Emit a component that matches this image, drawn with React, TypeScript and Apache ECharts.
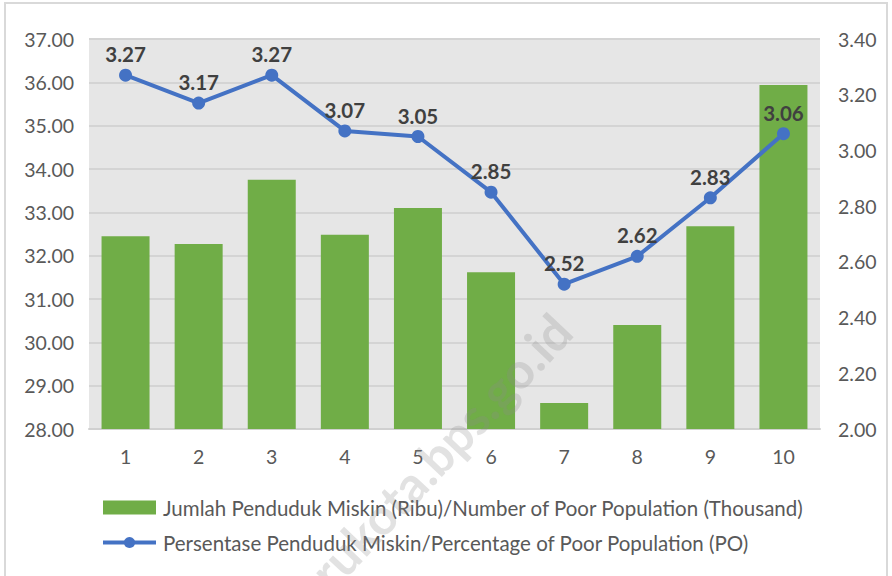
import React, { useEffect, useRef } from "react";
import * as echarts from "echarts";

const categories = ["1", "2", "3", "4", "5", "6", "7", "8", "9", "10"];
const poorPopulation = [32.45, 32.27, 33.75, 32.48, 33.1, 31.62, 28.6, 30.4, 32.68, 35.94];
const poorPercentage = [3.27, 3.17, 3.27, 3.07, 3.05, 2.85, 2.52, 2.62, 2.83, 3.06];
const barName = "Jumlah Penduduk Miskin (Ribu)/Number of Poor Population (Thousand)";
const lineName = "Persentase Penduduk Miskin/Percentage of Poor Population (PO)";
const watermark = "rukota.bps.go.id";

const FONT = "Lato, 'Open Sans', sans-serif";

export default function App() {
  const ref = useRef<HTMLDivElement>(null);
  useEffect(() => {
    document.body.style.margin = "0";
    const chart = echarts.init(ref.current!, null, { renderer: "svg" });
    chart.setOption({
      animation: false,
      backgroundColor: "#ffffff",
      textStyle: { fontFamily: FONT },
      grid: {
        left: 89,
        right: 72,
        top: 39,
        bottom: 147,
        show: true,
        backgroundColor: "#e6e6e6",
        borderWidth: 0,
      },
      legend: {
        orient: "vertical",
        left: 96,
        top: 491,
        itemGap: 12,
        itemWidth: 53,
        itemHeight: 14,
        textStyle: {
          fontSize: 20.5,
          lineHeight: 23,
          color: "#595959",
          fontFamily: FONT,
          padding: [0, 0, 0, 2],
        },
        data: [
          { name: barName, icon: "rect" },
          { name: lineName, lineStyle: { width: 4 } },
        ],
      },
      xAxis: {
        type: "category",
        data: categories,
        axisTick: { show: false },
        axisLine: { lineStyle: { color: "#d0d0d0", width: 2 } },
        axisLabel: { fontSize: 19.5, color: "#595959", margin: 17 },
      },
      yAxis: [
        {
          type: "value",
          min: 28,
          max: 37,
          interval: 1,
          axisLine: { show: false },
          axisTick: { show: false },
          splitLine: { lineStyle: { color: "#d4d4d4", width: 2 } },
          axisLabel: {
            fontSize: 19.5,
            color: "#595959",
            margin: 15,
            formatter: (v: number) => v.toFixed(2),
          },
        },
        {
          type: "value",
          min: 2,
          max: 3.4,
          interval: 0.2,
          axisLine: { show: false },
          axisTick: { show: false },
          splitLine: { show: false },
          axisLabel: {
            fontSize: 19.5,
            color: "#595959",
            margin: 18,
            formatter: (v: number) => v.toFixed(2),
          },
        },
      ],
      series: [
        {
          name: barName,
          type: "bar",
          data: poorPopulation,
          barWidth: 48,
          itemStyle: { color: "#70ad47" },
          yAxisIndex: 0,
        },
        {
          name: lineName,
          type: "line",
          data: poorPercentage,
          yAxisIndex: 1,
          symbol: "circle",
          symbolSize: 13,
          lineStyle: { color: "#4472c4", width: 4 },
          itemStyle: { color: "#4472c4" },
          label: {
            show: true,
            position: "top",
            distance: 4,
            fontSize: 20.5,
            fontWeight: "bold",
            color: "#404040",
            formatter: (p: any) => p.value.toFixed(2),
          },
          z: 5,
        },
      ],
      graphic: [
        {
          type: "rect",
          shape: { x: 5, y: 3, width: 882, height: 600 },
          style: { fill: "none", stroke: "#d9d9d9", lineWidth: 2 },
          silent: true,
          z: 100,
        },
        {
          type: "text",
          x: 562,
          y: 322,
          rotation: Math.PI / 4 + 0.03,
          style: {
            text: watermark,
            fill: "rgba(140,140,140,0.25)",
            font: "bold 50px " + FONT,
            textAlign: "right",
            textVerticalAlign: "middle",
          },
          silent: true,
          z: 100,
        },
      ],
    });
    return () => chart.dispose();
  }, []);
  return <div ref={ref} style={{ width: 892, height: 576 }} />;
}
